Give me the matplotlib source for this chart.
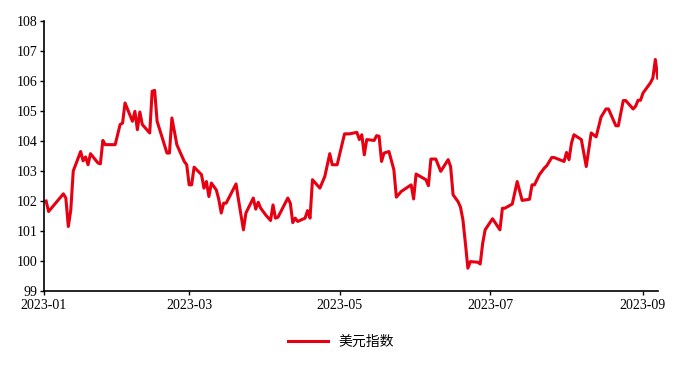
import matplotlib
matplotlib.use("Agg")
import matplotlib.pyplot as plt
import matplotlib.dates as mdates
import pandas as pd

plt.rcParams["font.family"] = ["Liberation Serif", "Noto Sans CJK SC"]

# 美元指数,日期以 2023-01-01 起算的天数表示
days = [1, 2, 8, 9, 10, 11, 12, 15, 16, 17, 18, 19, 22, 23, 24, 25, 29, 31, 32, 33,
        36, 37, 38, 39, 40, 43, 44, 45, 46, 50, 51, 52, 54, 57, 58, 59, 60, 61, 64, 65,
        66, 67, 68, 70, 71, 72, 73, 74, 78, 79, 81, 82, 85, 86, 87, 88, 90, 92, 93, 94,
        95, 99, 100, 101, 102, 103, 106, 107, 108, 109, 112, 114, 116, 117, 119, 122, 124, 127, 128, 129,
        130, 131, 134, 135, 136, 137, 138, 140, 142, 143, 145, 149, 150, 151, 155, 156, 157, 159, 161, 164,
        165, 166, 168, 169, 170, 171, 172, 173, 176, 177, 178, 179, 182, 185, 186, 187, 190, 192, 194, 197,
        198, 199, 201, 203, 204, 206, 207, 211, 212, 213, 214, 215, 218, 220, 222, 224, 226, 228, 229, 232,
        233, 235, 236, 239, 240, 241, 242, 243, 246, 247, 248, 249]
usd_index = [102.00, 101.65, 102.24, 102.10, 101.15, 101.70, 103.00, 103.65, 103.34, 103.47,
             103.21, 103.58, 103.27, 103.24, 104.02, 103.88, 103.88, 104.55, 104.60, 105.27,
             104.66, 104.99, 104.38, 104.97, 104.55, 104.27, 105.66, 105.69, 104.66, 103.60,
             103.60, 104.77, 103.88, 103.32, 103.21, 102.54, 102.54, 103.13, 102.88, 102.43,
             102.65, 102.15, 102.60, 102.37, 102.06, 101.60, 101.93, 101.93, 102.57, 102.04,
             101.04, 101.60, 102.10, 101.73, 101.96, 101.76, 101.54, 101.35, 101.87, 101.43,
             101.46, 102.10, 101.93, 101.28, 101.43, 101.32, 101.43, 101.68, 101.43, 102.71,
             102.43, 102.82, 103.58, 103.21, 103.21, 104.24, 104.24, 104.29, 104.05, 104.21,
             103.54, 104.05, 104.02, 104.18, 104.16, 103.32, 103.60, 103.65, 103.04, 102.13,
             102.32, 102.54, 102.07, 102.90, 102.71, 102.51, 103.40, 103.40, 102.99, 103.38,
             103.15, 102.21, 101.98, 101.80, 101.37, 100.59, 99.76, 99.98, 99.96, 99.90,
             100.59, 101.04, 101.41, 101.04, 101.76, 101.76, 101.90, 102.65, 102.02, 102.06,
             102.54, 102.54, 102.88, 103.10, 103.18, 103.45, 103.45, 103.32, 103.62, 103.38,
             103.93, 104.21, 104.05, 103.15, 104.27, 104.14, 104.80, 105.07, 105.07, 104.51,
             104.51, 105.35, 105.35, 105.07, 105.16, 105.36, 105.36, 105.60, 105.94, 106.10,
             106.72, 106.10]
label = "美元指数"

RED = "#E60012"

start = pd.Timestamp("2023-01-01")
dates = start + pd.to_timedelta(days, unit="D")

fig = plt.figure(figsize=(6.82, 3.70), dpi=100)
ax = fig.add_axes([0.064, 0.2135, 0.9005, 0.7295])
ax.plot(dates, usd_index, color=RED, lw=2.2, label=label)

ax.set_xlim(start, dates[-1])
ax.set_ylim(99, 108)
ax.set_yticks(range(99, 109))
ax.xaxis.set_major_locator(mdates.MonthLocator(bymonth=[1, 3, 5, 7, 9]))
ax.xaxis.set_major_formatter(mdates.DateFormatter("%Y-%m"))
ax.tick_params(labelsize=10, length=3, width=1, color="black")
ax.tick_params(axis="y", pad=1.5)
ax.tick_params(axis="x", pad=3)
for s in ["top", "right"]:
    ax.spines[s].set_visible(False)
for s in ["left", "bottom"]:
    ax.spines[s].set_linewidth(1.2)

fig.legend(loc="center", bbox_to_anchor=(0.5, 0.076), frameon=False,
           fontsize=10, handlelength=2.9)

fig.savefig("out.png", dpi=100)
